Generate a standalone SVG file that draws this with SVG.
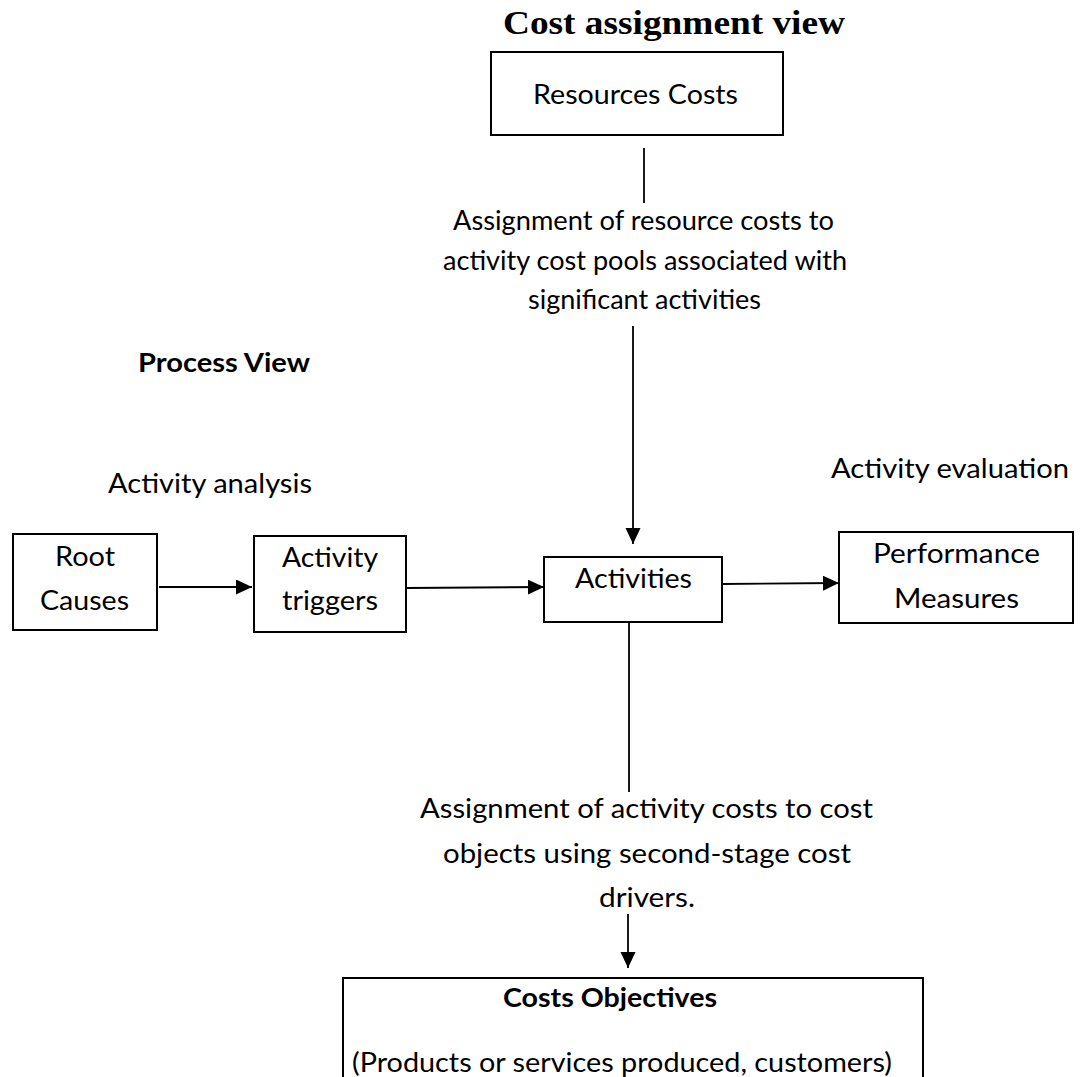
<svg xmlns="http://www.w3.org/2000/svg" width="1082" height="1077" viewBox="0 0 1082 1077">
<style>
  .box { fill: #ffffff; stroke: #000000; stroke-width: 2; }
  .t { font-family: Lato, "Liberation Sans", sans-serif; font-size: 26px; fill: #000000; }
  .b { font-family: Lato, "Liberation Sans", sans-serif; font-size: 26px; font-weight: bold; fill: #000000; }
  .title { font-family: "Liberation Serif", serif; font-size: 34px; font-weight: bold; fill: #000000; }
  .edge { fill: none; stroke: #000000; stroke-width: 1.8; }
</style>
<defs>
  <marker id="arr" markerUnits="userSpaceOnUse" markerWidth="17" markerHeight="16" refX="16" refY="7.5" orient="auto">
    <path d="M0,0 L16,7.5 L0,15 Z" fill="#000000"/>
  </marker>
</defs>
<rect width="1082" height="1077" fill="#ffffff"/>

<g id="title">
  <text class="title" x="503" y="34" textLength="342" lengthAdjust="spacingAndGlyphs">Cost assignment view</text>
</g>

<g id="connectors">
  <line class="edge" x1="644" y1="148" x2="644" y2="203"/>
  <line class="edge" x1="633" y1="326" x2="633" y2="544" marker-end="url(#arr)"/>
  <line class="edge" x1="159" y1="587" x2="252" y2="587" marker-end="url(#arr)"/>
  <line class="edge" x1="407" y1="588" x2="544" y2="587" marker-end="url(#arr)"/>
  <line class="edge" x1="722" y1="584" x2="839" y2="583" marker-end="url(#arr)"/>
  <line class="edge" x1="629" y1="622" x2="629" y2="792"/>
  <line class="edge" x1="628" y1="914" x2="628" y2="968" marker-end="url(#arr)"/>
</g>

<g id="resources-costs">
  <rect class="box" x="491" y="52" width="292" height="83"/>
  <text class="t" x="533" y="104" textLength="205" lengthAdjust="spacingAndGlyphs">Resources Costs</text>
</g>

<g id="label-resource-assignment">
  <text class="t" x="453" y="230" textLength="381" lengthAdjust="spacingAndGlyphs">Assignment of resource costs to</text>
  <text class="t" x="443" y="270" textLength="404" lengthAdjust="spacingAndGlyphs">activity cost pools associated with</text>
  <text class="t" x="528" y="309" textLength="233" lengthAdjust="spacingAndGlyphs">significant activities</text>
</g>

<g id="process-view">
  <text class="b" x="138" y="372" textLength="172" lengthAdjust="spacingAndGlyphs">Process View</text>
</g>

<g id="activity-analysis">
  <text class="t" x="108" y="493" textLength="204" lengthAdjust="spacingAndGlyphs">Activity analysis</text>
</g>

<g id="activity-evaluation">
  <text class="t" x="831" y="478" textLength="238" lengthAdjust="spacingAndGlyphs">Activity evaluation</text>
</g>

<g id="root-causes">
  <rect class="box" x="13" y="534" width="144" height="96"/>
  <text class="t" x="55" y="566" textLength="60" lengthAdjust="spacingAndGlyphs">Root</text>
  <text class="t" x="40" y="610" textLength="89" lengthAdjust="spacingAndGlyphs">Causes</text>
</g>

<g id="activity-triggers">
  <rect class="box" x="254" y="536" width="152" height="96"/>
  <text class="t" x="282" y="567" textLength="96" lengthAdjust="spacingAndGlyphs">Activity</text>
  <text class="t" x="282" y="610" textLength="96" lengthAdjust="spacingAndGlyphs">triggers</text>
</g>

<g id="activities">
  <rect class="box" x="544" y="557" width="178" height="65"/>
  <text class="t" x="575" y="588" textLength="117" lengthAdjust="spacingAndGlyphs">Activities</text>
</g>

<g id="performance-measures">
  <rect class="box" x="839" y="532" width="234" height="91"/>
  <text class="t" x="873" y="563" textLength="167" lengthAdjust="spacingAndGlyphs">Performance</text>
  <text class="t" x="894" y="608" textLength="125" lengthAdjust="spacingAndGlyphs">Measures</text>
</g>

<g id="label-activity-assignment">
  <text class="t" x="420" y="818" textLength="453" lengthAdjust="spacingAndGlyphs">Assignment of activity costs to cost</text>
  <text class="t" x="443" y="863" textLength="408" lengthAdjust="spacingAndGlyphs">objects using second-stage cost</text>
  <text class="t" x="599" y="907" textLength="96" lengthAdjust="spacingAndGlyphs">drivers.</text>
</g>

<g id="costs-objectives">
  <rect class="box" x="343" y="978" width="580" height="200"/>
  <text class="b" x="503" y="1007" textLength="214" lengthAdjust="spacingAndGlyphs">Costs Objectives</text>
  <text class="t" x="352" y="1072" textLength="540" lengthAdjust="spacingAndGlyphs">(Products or services produced, customers)</text>
</g>
</svg>
